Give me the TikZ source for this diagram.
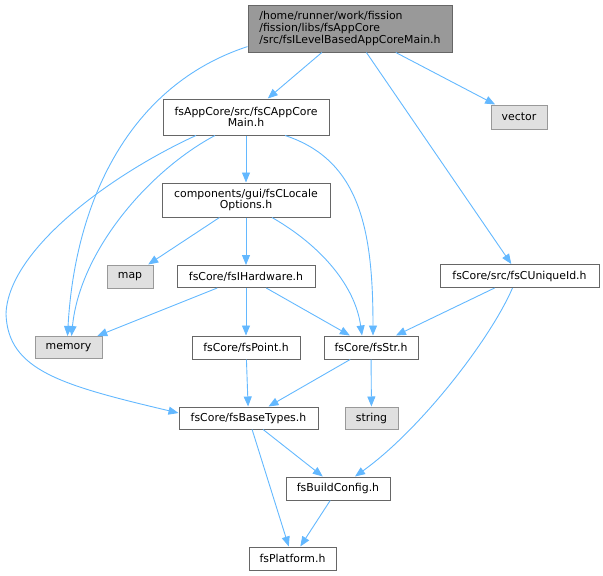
\documentclass[tikz,border=0pt]{standalone}
\usepackage{fontspec}
\setmainfont{DejaVu Sans}
\usepackage{tikz}
\usetikzlibrary{arrows.meta}

\definecolor{edgeblue}{HTML}{63B8FF}
\definecolor{boxgray}{HTML}{666666}
\definecolor{sysgray}{HTML}{999999}
\definecolor{sysfill}{HTML}{E0E0E0}

\tikzset{
  hfile/.style={draw=boxgray, fill=white, rectangle, inner sep=0pt, line width=1pt,
    font=\fontsize{10.9}{11.8}\selectfont, align=center},
  mainfile/.style={hfile, fill=sysgray, align=left},
  sysfile/.style={hfile, draw=sysgray, fill=sysfill},
  dep/.style={draw=edgeblue, line width=0.9pt, -{Triangle[length=10pt,width=8pt]}},
}

\begin{document}
\begin{tikzpicture}[x=1pt, y=-1pt]
        \useasboundingbox (0,0) rectangle (603,576);

        % files
        \node[mainfile, minimum width=204pt, minimum height=47pt] (main) at (350,28.5)
            {/home/runner/work/fission\\/fission/libs/fsAppCore\\/src/fsILevelBasedAppCoreMain.h};
        \node[hfile, minimum width=166pt, minimum height=36pt] (cmain) at (246,117) {fsAppCore/src/fsCAppCore\\Main.h};
        \node[sysfile, minimum width=56pt, minimum height=24pt] (vector) at (519,117) {vector};
        \node[hfile, minimum width=168pt, minimum height=34pt] (locale) at (246,200) {components/gui/fsCLocale\\Options.h};
        \node[sysfile, minimum width=46pt, minimum height=23pt] (map) at (130,276.5) {map};
        \node[hfile, minimum width=138pt, minimum height=22pt] (hw) at (246,276.5) {fsCore/fsIHardware.h};
        \node[hfile, minimum width=159pt, minimum height=23pt] (uniq) at (519.5,276) {fsCore/src/fsCUniqueId.h};
        \node[sysfile, minimum width=67pt, minimum height=22pt] (memory) at (68.5,347.5) {memory};
        \node[hfile, minimum width=108pt, minimum height=23pt] (point) at (246,347.5) {fsCore/fsPoint.h};
        \node[hfile, minimum width=94pt, minimum height=23pt] (str) at (371,347.5) {fsCore/fsStr.h};
        \node[hfile, minimum width=139pt, minimum height=22pt] (base) at (248.5,418) {fsCore/fsBaseTypes.h};
        \node[sysfile, minimum width=53pt, minimum height=22pt] (string) at (371.5,418) {string};
        \node[hfile, minimum width=104pt, minimum height=23pt] (build) at (338,488.5) {fsBuildConfig.h};
        \node[hfile, minimum width=87pt, minimum height=23pt] (plat) at (292.5,558.5) {fsPlatform.h};

        \coordinate (bend) at (6,314);

        % includes
        \draw[dep] (main.190) .. controls (130,85) and (75,200) .. ([xshift=-1pt]memory.north);
        \draw[dep] (main) -- (cmain);
        \draw[dep] (main) -- (uniq);
        \draw[dep] (main) -- (vector);

        \draw[dep] (cmain) -- (locale);
        \draw[dep] ([xshift=-31pt]cmain.south) .. controls (150,170) and (80,250) .. ([xshift=3pt]memory.north);
        \draw[dep] ([xshift=-50pt]cmain.south) .. controls (110,175) and (8,250) .. (bend)
            .. controls (8,370) and (60,385) .. ([yshift=5pt]base.west);
        \draw[dep] ([xshift=39pt]cmain.south) .. controls (360,160) and (373,230) .. ([xshift=2pt]str.north);

        \draw[dep] (locale) -- (map);
        \draw[dep] (locale) -- (hw);
        \draw[dep] ([xshift=26pt]locale.south) .. controls (320,245) and (355,285) .. ([xshift=-9pt]str.north);

        \draw[dep] (hw) -- (memory);
        \draw[dep] (hw) -- (point);
        \draw[dep] (hw) -- (str);

        \draw[dep] (uniq) -- (str);
        \draw[dep] ([xshift=-7pt]uniq.south) .. controls (490,340) and (420,430) .. ([xshift=17pt]build.north);

        \draw[dep] (point) -- (base);
        \draw[dep] (str) -- (base);
        \draw[dep] (str) -- (string);

        \draw[dep] (base) -- (build);
        \draw[dep] (base) -- (plat);
        \draw[dep] (build) -- (plat);
    \end{tikzpicture}
\end{document}
